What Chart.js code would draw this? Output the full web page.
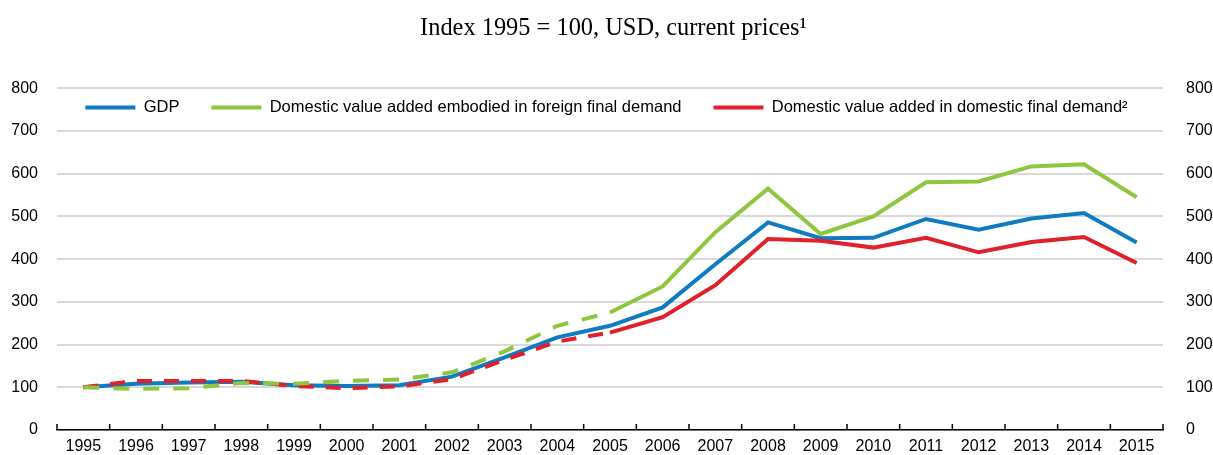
<!DOCTYPE html>
<html>
<head>
<meta charset="utf-8">
<script src="https://cdn.jsdelivr.net/npm/chart.js@4"></script>
<style>
  html, body { margin: 0; padding: 0; background: #fff; overflow: hidden; }
  canvas { display: block; }
</style>
</head>
<body>
<canvas id="c" width="1213" height="455" style="width:1213px;height:455px"></canvas>
<script>
const years = ['1995','1996','1997','1998','1999','2000','2001','2002','2003','2004','2005','2006','2007','2008','2009','2010','2011','2012','2013','2014','2015'];
const gdp = [100,108,111,113,105,103,105,125,170,217,244,287,388,486,449,450,494,469,495,508,439];
const foreignDemand = [100,96,98,110,108,115,118,135,184,244,275,336,463,565,459,500,580,582,617,622,545];
const domesticDemand = [100,115,115,115,103,98,102,119,164,207,228,264,339,447,443,427,450,416,440,452,391];
const yTicks = [0,100,200,300,400,500,600,700,800];
const dashedUntil = 10; // index of 2005

const titleText = 'Index 1995 = 100, USD, current prices\u00B9';
const labels = ['GDP', 'Domestic value added embodied in foreign final demand', 'Domestic value added in domestic final demand\u00B2'];

const BLUE = '#0E7BC2', GREEN = '#8DC63F', RED = '#E0202A';

const innerTicks = {
  id: 'innerTicks',
  beforeDatasetsDraw(chart) {
    const xs = chart.scales.x;
    const ctx = chart.ctx;
    ctx.save();
    ctx.strokeStyle = '#000';
    ctx.lineWidth = 1.5;
    for (let i = 0; i <= years.length; i++) {
      const x = xs.getPixelForValue(i - 0.5);
      ctx.beginPath();
      ctx.moveTo(x, xs.top);
      ctx.lineTo(x, xs.top - 6);
      ctx.stroke();
    }
    ctx.restore();
  }
};

const layoutTweak = {
  id: 'layoutTweak',
  afterLayout(chart) {
    const lg = chart.legend;
    if (lg) {
      lg.top = chart.chartArea.top - 21;
      lg.height = 70;
      lg.bottom = lg.top + lg.height;
    }
    const t = chart.titleBlock;
    if (t) {
      t.left += 7;
      t.right += 7;
    }
  }
};

const fitY = (w) => (scale) => { scale.width = w; scale.paddingTop = 0; scale.paddingBottom = 0; };

const dashFn = (pattern) => (ctx) => (ctx.p1DataIndex <= dashedUntil ? pattern : undefined);

new Chart(document.getElementById('c'), {
  type: 'line',
  data: {
    labels: years,
    datasets: [
      { label: labels[0], data: gdp, borderColor: BLUE, backgroundColor: BLUE, borderWidth: 4, pointRadius: 0, tension: 0, order: 3, yAxisID: 'y' },
      { label: labels[1], data: foreignDemand, borderColor: GREEN, backgroundColor: GREEN, borderWidth: 4, pointRadius: 0, tension: 0, order: 1, yAxisID: 'y',
        segment: { borderDash: dashFn([16, 14]) } },
      { label: labels[2], data: domesticDemand, borderColor: RED, backgroundColor: RED, borderWidth: 4, pointRadius: 0, tension: 0, order: 2, yAxisID: 'y',
        segment: { borderDash: dashFn([15, 12]) } }
    ]
  },
  options: {
    responsive: false,
    maintainAspectRatio: false,
    devicePixelRatio: 1,
    animation: false,
    layout: { padding: { left: 0, right: 0, top: 0, bottom: 0 } },
    plugins: {
      title: {
        display: true,
        text: titleText,
        color: '#000',
        font: { family: '"Liberation Serif", "Times New Roman", serif', size: 24.4, weight: 'normal' },
        padding: { top: 14, bottom: 44 }
      },
      legend: {
        position: 'top',
        align: 'center',
        maxHeight: 1,
        labels: {
          boxWidth: 50,
          boxHeight: 4,
          padding: 32,
          color: '#000',
          font: { family: '"Liberation Sans", Arial, sans-serif', size: 16.5 },
          sort: (a, b) => a.datasetIndex - b.datasetIndex,
          generateLabels(chart) {
            const items = Chart.defaults.plugins.legend.labels.generateLabels(chart);
            items.forEach(it => { it.lineWidth = 0; it.fillStyle = it.strokeStyle; it.lineDash = []; });
            return items;
          }
        }
      },
      tooltip: { enabled: false }
    },
    scales: {
      x: {
        type: 'category',
        offset: true,
        grid: { display: false, drawTicks: false },
        border: { display: true, color: '#000', width: 1.5 },
        ticks: {
          autoSkip: false, maxRotation: 0, minRotation: 0, padding: 7, color: '#000',
          font: { family: '"Liberation Sans", Arial, sans-serif', size: 16 }
        },
        afterFit(scale) { scale.height = 25; }
      },
      y: {
        position: 'left',
        min: 0, max: 800,
        afterBuildTicks(scale) { scale.ticks = yTicks.map(v => ({ value: v })); },
        grid: { color: '#d9d9d9', lineWidth: 2, drawTicks: false },
        border: { display: false },
        ticks: {
          padding: 19, color: '#000',
          font: { family: '"Liberation Sans", Arial, sans-serif', size: 16 }
        },
        afterFit: fitY(57)
      },
      y2: {
        position: 'right',
        min: 0, max: 800,
        afterBuildTicks(scale) { scale.ticks = yTicks.map(v => ({ value: v })); },
        grid: { display: false, drawOnChartArea: false, drawTicks: false },
        border: { display: false },
        ticks: {
          padding: 23, color: '#000',
          font: { family: '"Liberation Sans", Arial, sans-serif', size: 16 }
        },
        afterFit: fitY(50)
      }
    }
  },
  plugins: [innerTicks, layoutTweak]
});
</script>
</body>
</html>
